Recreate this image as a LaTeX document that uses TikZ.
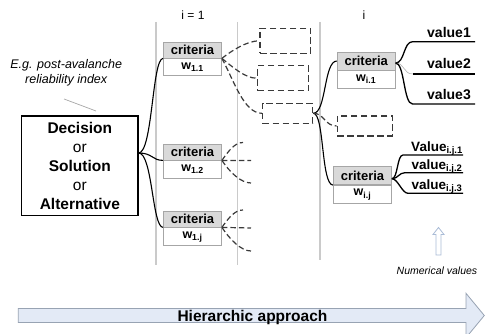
\documentclass[tikz,border=0pt]{standalone}
\usepackage{fontspec}
\setmainfont{Liberation Sans}
\definecolor{critgray}{HTML}{D9D9D9}
\definecolor{boxedge}{HTML}{A6A6A6}
\definecolor{divline}{HTML}{CACACA}
\definecolor{dashgray}{HTML}{3A3A3A}
\definecolor{arrowfill}{HTML}{E3EAF6}
\definecolor{arrowedge}{HTML}{98A3B3}
\definecolor{hollowedge}{HTML}{A9BBD6}
\begin{document}
\begin{tikzpicture}[x=1pt,y=-1pt,
  divider/.style={draw=divline, line width=1.5pt},
  decbox/.style={draw=black, line width=1.2pt, fill=white, minimum width=116.3pt,
    minimum height=99.7pt, inner sep=0pt, align=center,
    font=\fontsize{15.5}{18.9}\selectfont},
  gbox/.style={draw=boxedge, fill=critgray, line width=0.8pt, minimum width=58pt,
    inner sep=0pt, font=\fontsize{13}{15}\selectfont\bfseries},
  wbox/.style={draw=boxedge, fill=white, line width=0.8pt, minimum width=58pt,
    inner sep=0pt, font=\fontsize{12.5}{14}\selectfont\bfseries},
  dbox/.style={draw=dashgray, line width=1.3pt, dash pattern=on 6.5pt off 3.5pt, inner sep=0pt},
  link/.style={draw=black, line width=1.1pt},
  dlink/.style={draw=dashgray, line width=1.2pt, dash pattern=on 5.5pt off 3pt},
  valline/.style={draw=black, line width=1.5pt},
  valtext/.style={anchor=base, inner sep=0pt, font=\fontsize{14}{16}\selectfont\bfseries},
  subvaltext/.style={anchor=base, inner sep=0pt, font=\fontsize{13.5}{15}\selectfont\bfseries},
  note/.style={align=center, inner sep=0pt, font=\fontsize{12.5}{15}\selectfont\itshape},
  levlabel/.style={anchor=base, inner sep=0pt, font=\fontsize{12}{14}\selectfont}
]
\useasboundingbox (0,0) rectangle (485,334);

% level dividers
\draw[divider] (156,22) -- (156,265);
\draw[divider] (237.7,22) -- (237.7,265);
\draw[divider] (320,22) -- (320,260);

\node[levlabel] (lev1) at (193,20) {i = 1};
\node[levlabel] (levi) at (364,20) {i};

% example annotation
\node[note] (eg) at (66.2,72.6) {E.g. post-avalanche\\reliability index};
\coordinate (egp1) at (64,99);
\coordinate (egp2) at (96,111);
\draw[draw=gray!70, line width=0.7pt] (egp1) -- (egp2);

% root box
\node[decbox] (dec) at (79.85,165.85)
  {\textbf{Decision}\\or\\\textbf{Solution}\\or\\\textbf{Alternative}};

% first-level criteria
\node[gbox, minimum height=16pt] (g11) at (192.5,50) {criteria};
\node[wbox, minimum height=17pt, anchor=north] (w11) at (g11.south) {w\textsubscript{1.1}};
\node[gbox, minimum height=16pt] (g12) at (192.5,152) {criteria};
\node[wbox, minimum height=17.5pt, anchor=north] (w12) at (g12.south) {w\textsubscript{1.2}};
\node[gbox, minimum height=16pt] (g13) at (192.5,219) {criteria};
\node[wbox, minimum height=18pt, anchor=north] (w13) at (g13.south) {w\textsubscript{1.j}};

% sub-criteria placeholders
\node[dbox, minimum width=50.7pt, minimum height=25pt] (da) at (285.35,40.8) {};
\node[dbox, minimum width=50.8pt, minimum height=25pt] (db) at (282.9,78.25) {};
\node[dbox, minimum width=50.2pt, minimum height=20pt] (dc) at (287.6,113.3) {};
\node[dbox, minimum width=55pt, minimum height=20pt] (dd) at (364.8,126) {};

% level-i criteria
\node[gbox, minimum height=18pt] (gi1) at (366.2,61) {criteria};
\node[wbox, minimum height=17.5pt, anchor=north] (wi1) at (gi1.south) {w\textsubscript{i.1}};
\node[gbox, minimum height=18pt] (gij) at (362.5,175.7) {criteria};
\node[wbox, minimum height=18.3pt, anchor=north] (wij) at (gij.south) {w\textsubscript{i.j}};

% values
\node[valtext] (v1) at (449,37.5) {value1};
\node[valtext] (v2) at (449,68.8) {value2};
\node[valtext] (v3) at (449,99.3) {value3};
\coordinate (v1a) at (412.5,41.7); \coordinate (v1b) at (475,41.7);
\coordinate (v2a) at (412.5,74);   \coordinate (v2b) at (475,74);
\coordinate (v3a) at (412.5,104);  \coordinate (v3b) at (475,104);

\node[subvaltext] (u1) at (437,151.7) {Value\textsubscript{i.j.1}};
\node[subvaltext] (u2) at (437,169.3) {value\textsubscript{i.j.2}};
\node[subvaltext] (u3) at (437,189.3) {value\textsubscript{i.j.3}};
\coordinate (u1a) at (403,155);   \coordinate (u1b) at (463,155);
\coordinate (u2a) at (405,172.7); \coordinate (u2b) at (463,172.7);
\coordinate (u3a) at (408,193.3); \coordinate (u3b) at (463,193.3);

% root to first-level criteria
\draw[link] ([yshift=12.85pt]dec.east) .. controls +(14,0) and +(-11,0) .. (g11.south west);
\draw[link] ([yshift=12.85pt]dec.east) .. controls +(14,0) and +(-11,0) .. (g12.south west);
\draw[link] ([yshift=12.85pt]dec.east) .. controls +(14,0) and +(-11,0) .. (g13.south west);

% first criterion to its sub-criteria
\draw[dlink] (g11.south east) .. controls +(10,-8) and +(-12,0) .. (da.west);
\draw[dlink] (g11.south east) .. controls +(10,8) and +(-12,0) .. (db.west);
\draw[dlink] (g11.south east) .. controls +(12,22) and +(-18,0) .. (dc.west);

% open branches of the other criteria
\coordinate (s12u) at (243,142.5);
\coordinate (s12m) at (251,160.5);
\coordinate (s12l) at (251,183);
\draw[dlink] (g12.south east) .. controls +(7,-10) and +(-8,0) .. (s12u);
\draw[dlink] (g12.south east) -- (s12m);
\draw[dlink] (g12.south east) .. controls +(8,12) and +(-10,0) .. (s12l);
\coordinate (s13u) at (243,210);
\coordinate (s13m) at (251,228);
\coordinate (s13l) at (251,251);
\draw[dlink] (g13.south east) .. controls +(7,-10) and +(-8,0) .. (s13u);
\draw[dlink] (g13.south east) -- (s13m);
\draw[dlink] (g13.south east) .. controls +(8,12) and +(-10,0) .. (s13l);

% level i-1 to level i
\draw[link] (dc.east) .. controls +(13,0) and +(-13,0) .. (gi1.west);
\draw[link] (dc.east) .. controls +(11,0) and +(-12,0) .. (gij.south west);
\draw[dlink] (dc.east) .. controls +(11,0) and +(-12,0) .. (dd.west);

% criterion i.1 to its values
\draw[valline, line width=1.3pt] ([yshift=-2pt]gi1.east) .. controls +(9,0) and +(-9,0) .. (v1a) -- (v1b);
\draw[draw=gray!60, line width=0.6pt] ([yshift=-2pt]gi1.east) .. controls +(9,0) and +(-9,0) .. (v2a);
\draw[valline] (v2a) -- (v2b);
\draw[valline, line width=1.3pt] ([yshift=-2pt]gi1.east) .. controls +(9,0) and +(-9,0) .. (v3a) -- (v3b);

% criterion i.j to its values
\draw[valline, line width=1.3pt] ([yshift=-3pt]gij.east) .. controls +(6,0) and +(-6,0) .. (u1a) -- (u1b);
\draw[valline, line width=1.3pt] ([yshift=-3pt]gij.east) .. controls +(6,0) and +(-6,0) .. (u2a) -- (u2b);
\draw[valline, line width=1.3pt] ([yshift=-3pt]gij.east) .. controls +(6,0) and +(-6,0) .. (u3a) -- (u3b);

% numerical values marker
\draw[draw=hollowedge, fill=white, line width=0.8pt, line join=miter]
  (436,255) -- (436,234.5) -- (433,234.5) -- (438.5,227.5) -- (444,234.5)
  -- (441,234.5) -- (441,255) -- cycle;
\node[inner sep=0pt, font=\fontsize{10.5}{12}\selectfont\itshape] (num) at (437,271) {Numerical values};

% hierarchy arrow
\begin{scope}
\clip (0,0) rectangle (485,334);
\draw[draw=arrowedge, fill=arrowfill, line width=0.8pt, line join=miter]
  (18.3,308.5) -- (466,308.5) -- (466,293.3) -- (484.3,315.5) -- (466,337.7)
  -- (466,322.5) -- (18.3,322.5) -- cycle;
\end{scope}
\node[anchor=base, inner sep=0pt, font=\fontsize{15.5}{18}\selectfont\bfseries] (hier) at (252.5,321) {Hierarchic approach};
\end{tikzpicture}
\end{document}
